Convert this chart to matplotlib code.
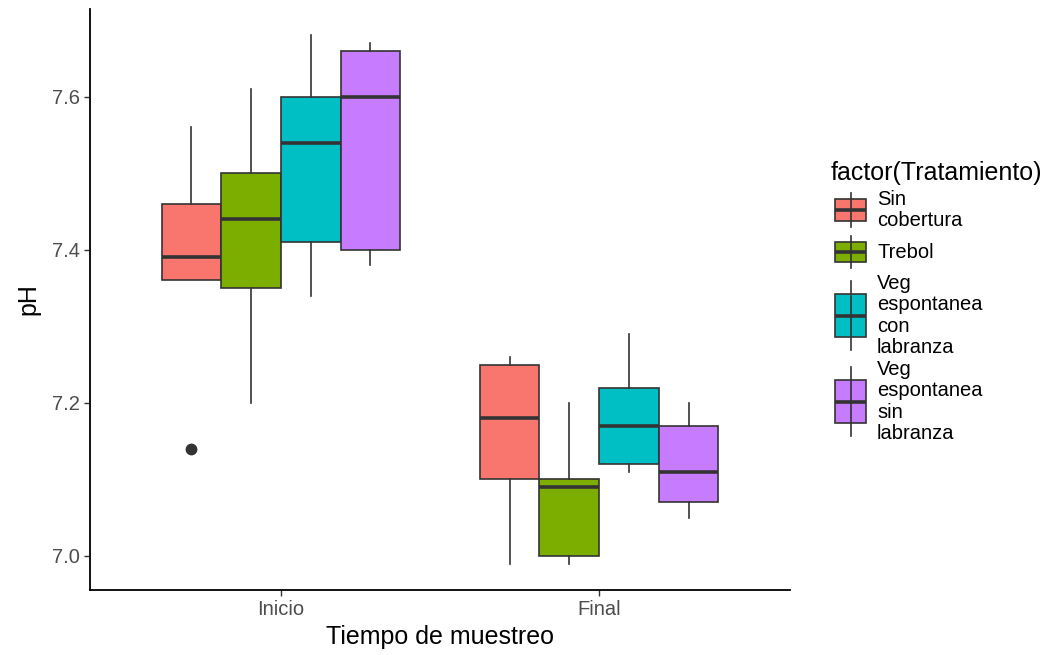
import matplotlib
matplotlib.use("Agg")
import matplotlib.pyplot as plt
from matplotlib.patches import Rectangle

plt.rcParams["font.family"] = ["Liberation Sans", "DejaVu Sans"]

TIEMPOS = ["Inicio", "Final"]
TRATAMIENTOS = ["Sin cobertura", "Trebol", "Veg espontanea con labranza", "Veg espontanea sin labranza"]
LEYENDA = ["Sin\ncobertura", "Trebol", "Veg\nespontanea\ncon\nlabranza", "Veg\nespontanea\nsin\nlabranza"]
COLORES = ["#F8766D", "#7CAE00", "#00BFC4", "#C77CFF"]

# per time point, one value per tratamiento
whislo = [[7.36, 7.20, 7.34, 7.38], [6.99, 6.99, 7.11, 7.05]]
q1 = [[7.36, 7.35, 7.41, 7.40], [7.10, 7.00, 7.12, 7.07]]
med = [[7.39, 7.44, 7.54, 7.60], [7.18, 7.09, 7.17, 7.11]]
q3 = [[7.46, 7.50, 7.60, 7.66], [7.25, 7.10, 7.22, 7.17]]
whishi = [[7.56, 7.61, 7.68, 7.67], [7.26, 7.20, 7.29, 7.20]]
outliers = [[[7.14], [], [], []], [[], [], [], []]]

LINEA = "#333333"
DODGE = 0.75
ANCHO = DODGE / len(TRATAMIENTOS)

fig = plt.figure(figsize=(10.49, 6.55), dpi=100)
ax = fig.add_axes([90 / 1049, 65 / 655, 700 / 1049, 581 / 655])

for i, t in enumerate(TIEMPOS):
    for j, trat in enumerate(TRATAMIENTOS):
        pos = i + 1 - DODGE / 2 + ANCHO * (j + 0.5)
        stats = [{
            "whislo": whislo[i][j], "q1": q1[i][j], "med": med[i][j],
            "q3": q3[i][j], "whishi": whishi[i][j], "fliers": outliers[i][j],
        }]
        ax.bxp(stats, positions=[pos], widths=ANCHO, showcaps=False, patch_artist=True,
               boxprops=dict(facecolor=COLORES[j], edgecolor=LINEA, linewidth=1.2),
               whiskerprops=dict(color=LINEA, linewidth=1.2),
               medianprops=dict(color=LINEA, linewidth=2.6, solid_capstyle="butt"),
               flierprops=dict(marker="o", markerfacecolor=LINEA, markeredgecolor=LINEA,
                               markersize=7.5, linestyle="none"),
               manage_ticks=False)

lo = min(min(r) for r in whislo)
hi = max(max(r) for r in whishi)
pad = (hi - lo) * 0.05
ax.set_ylim(lo - pad, hi + pad)
ax.set_xlim(0.4, len(TIEMPOS) + 0.6)
ax.set_xticks(range(1, len(TIEMPOS) + 1))
ax.set_xticklabels(TIEMPOS)
ax.set_yticks([7.0, 7.2, 7.4, 7.6])
ax.set_yticklabels(["7.0", "7.2", "7.4", "7.6"])

for s in ["top", "right"]:
    ax.spines[s].set_visible(False)
for s in ["left", "bottom"]:
    ax.spines[s].set_color("black")
    ax.spines[s].set_linewidth(1.3)
ax.tick_params(length=4.5, width=1.0, color=LINEA, labelcolor="#4D4D4D", labelsize=14.5, pad=3)
ax.set_xlabel("Tiempo de muestreo", fontsize=18, color="black", labelpad=4)
ax.set_ylabel("pH", fontsize=18, color="black", labelpad=8)

# legend drawn by hand in pixel coordinates
lax = fig.add_axes([0, 0, 1, 1])
lax.set_xlim(0, 1049)
lax.set_ylim(655, 0)
lax.axis("off")
lax.text(831, 173, "factor(Tratamiento)", fontsize=18, va="center", ha="left")

linea_px = 21.5
y = 188.5
kx0, kx1 = 835, 866
kc = (kx0 + kx1) / 2
for etiqueta, color in zip(LEYENDA, COLORES):
    n = etiqueta.count("\n") + 1
    h = max(41, n * linea_px)
    lax.plot([kc, kc], [y + 0.1 * h, y + 0.9 * h], color=LINEA, lw=1.2)
    lax.add_patch(Rectangle((kx0, y + 0.25 * h), kx1 - kx0, 0.5 * h,
                            facecolor=color, edgecolor=LINEA, lw=1.2))
    lax.plot([kx0, kx1], [y + 0.5 * h, y + 0.5 * h], color=LINEA, lw=2.6, solid_capstyle="butt")
    lax.text(877, y + h / 2, etiqueta, fontsize=14.5, va="center", ha="left",
             linespacing=1.17, color="black")
    y += h

fig.savefig("out.png", dpi=100)
